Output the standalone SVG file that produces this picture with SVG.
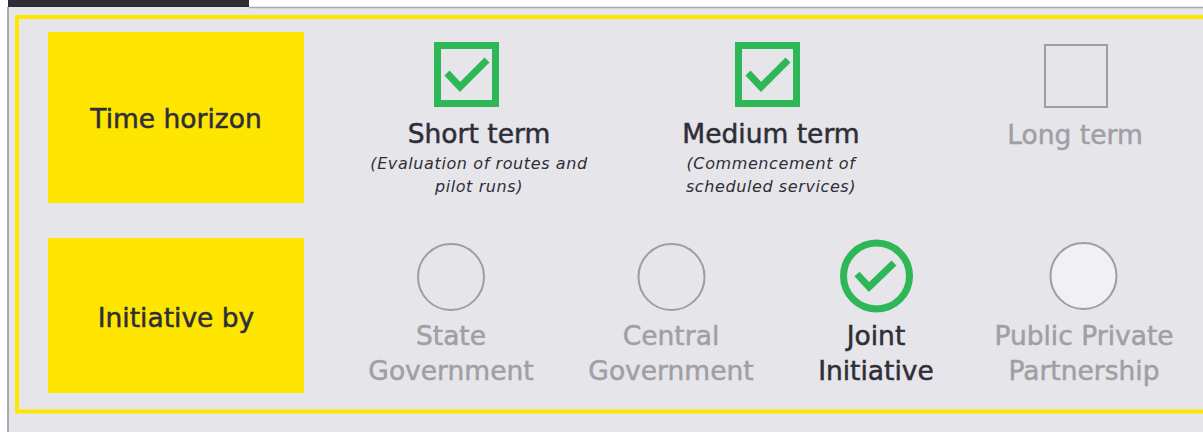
<svg xmlns="http://www.w3.org/2000/svg" width="1203" height="432" viewBox="0 0 1203 432">
<style>
.lbl{font-family:"DejaVu Sans","Liberation Sans",sans-serif;font-size:26.5px;text-anchor:middle;stroke-width:0.5}
.dark{fill:#2e2e38;stroke:#2e2e38}
.mut{fill:#a09fa5;stroke:#a09fa5}
.sub{font-family:"DejaVu Sans","Liberation Sans",sans-serif;font-size:16px;letter-spacing:0.6px;font-style:italic;fill:#2e2e38;text-anchor:middle}
.ybox{fill:#ffe600}
.on{fill:none;stroke:#2db757;stroke-width:7}
.off{fill:none;stroke:#9e9da3;stroke-width:2}
.tick{fill:none;stroke:#2db757;stroke-width:7;stroke-linecap:butt;stroke-linejoin:miter}
</style>
<rect x="0" y="0" width="1203" height="432" fill="#ffffff"/>
<rect x="8" y="7" width="1195" height="425" fill="#e6e5ea"/>
<line x1="249" y1="7.5" x2="1203" y2="7.5" stroke="#a9a9ad" stroke-width="1.5"/>
<line x1="8" y1="7" x2="8" y2="432" stroke="#a9a9ad" stroke-width="2"/>
<rect x="8" y="0" width="241" height="7" fill="#2e2d35"/>
<rect x="17" y="17" width="1200" height="394.5" fill="none" stroke="#ffe600" stroke-width="4"/>
<g id="time-horizon">
<rect class="ybox" x="48" y="32" width="256" height="171"/>
<text class="lbl dark" x="176" y="128">Time horizon</text>
</g>
<g id="short-term">
<rect class="on" x="437.5" y="45.5" width="58" height="58"/>
<polyline class="tick" points="447,73 460,87 487,60"/>
<text class="lbl dark" x="479" y="143">Short term</text>
<text class="sub" x="479" y="169">(Evaluation of routes and</text>
<text class="sub" x="479" y="192">pilot runs)</text>
</g>
<g id="medium-term">
<rect class="on" x="738.5" y="45.5" width="58" height="58"/>
<polyline class="tick" points="748,73 761,87 788,60"/>
<text class="lbl dark" x="771" y="143">Medium term</text>
<text class="sub" x="771" y="169">(Commencement of</text>
<text class="sub" x="771" y="192">scheduled services)</text>
</g>
<g id="long-term">
<rect class="off" x="1045" y="45" width="62" height="62"/>
<text class="lbl mut" x="1075" y="144">Long term</text>
</g>
<g id="initiative-by">
<rect class="ybox" x="48" y="238" width="256" height="155"/>
<text class="lbl dark" x="176" y="327">Initiative by</text>
</g>
<g id="state-government">
<circle class="off" cx="451" cy="277" r="33"/>
<text class="lbl mut" x="451" y="345">State</text>
<text class="lbl mut" x="451" y="380">Government</text>
</g>
<g id="central-government">
<circle class="off" cx="671.5" cy="277" r="33"/>
<text class="lbl mut" x="671" y="345">Central</text>
<text class="lbl mut" x="671" y="380">Government</text>
</g>
<g id="joint-initiative">
<circle class="on" cx="876.5" cy="276" r="33" stroke-width="6"/>
<polyline class="tick" points="857,274 869,287 894,263" stroke-width="6"/>
<text class="lbl dark" x="876" y="345">Joint</text>
<text class="lbl dark" x="876" y="380">Initiative</text>
</g>
<g id="public-private-partnership">
<circle cx="1083.5" cy="276" r="33" fill="#f1f0f4" stroke="#9e9da3" stroke-width="2"/>
<text class="lbl mut" x="1084" y="345">Public Private</text>
<text class="lbl mut" x="1084" y="380">Partnership</text>
</g>
<g id="connectors"/>
</svg>
